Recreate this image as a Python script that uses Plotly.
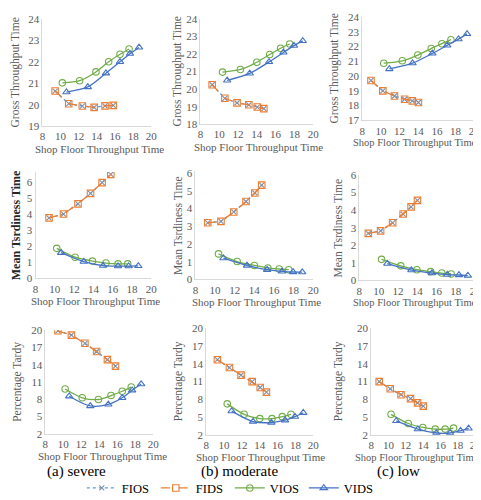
import plotly.graph_objects as go

# ---------------- data ----------------
x_ticks = [8, 10, 12, 14, 16, 18, 20]
pct_ticks = [2, 5, 8, 11, 14, 17, 20]
captions = ["(a) severe", "(b) moderate", "(c) low"]
y_titles = ["Gross Throughput Time", "Mean Tsrdiness Time", "Percentage Tardy"]
x_title = "Shop Floor Throughput Time"
series_names = ["FIOS", "FIDS", "VIOS", "VIDS"]

# shop floor throughput time (x) per scenario / rule
sev_fids_x = [9.4, 10.9, 12.4, 13.7, 14.9, 15.8]
sev_vios_x = [10.2, 12.1, 13.9, 15.3, 16.55, 17.55]
sev_vids_x = [10.65, 13.0, 15.0, 16.55, 17.65, 18.65]
mod_fids_x = [9.25, 10.6, 11.9, 13.15, 14.05, 14.75]
mod_vios_x = [10.35, 12.25, 14.0, 15.37, 16.53, 17.5]
mod_vids_x = [10.85, 13.25, 15.3, 16.83, 17.95, 18.88]
low_fids_x = [8.93, 10.2, 11.45, 12.54, 13.36, 14.02]
low_vios_x = [10.3, 12.29, 13.96, 15.39, 16.54, 17.51]
low_vids_x = [10.9, 13.39, 15.52, 17.11, 18.32, 19.24]

# gross throughput time
sev_gtt_fids = [20.64, 20.05, 19.94, 19.88, 19.95, 19.97]
sev_gtt_vios = [21.02, 21.12, 21.53, 22.0, 22.35, 22.6]
sev_gtt_vids = [20.59, 20.83, 21.47, 22.0, 22.38, 22.67]
mod_gtt_fids = [20.25, 19.48, 19.22, 19.11, 18.98, 18.89]
mod_gtt_vios = [20.97, 21.12, 21.53, 21.97, 22.33, 22.57]
mod_gtt_vids = [20.5, 20.9, 21.55, 22.09, 22.48, 22.75]
low_gtt_fids = [19.7, 19.0, 18.65, 18.43, 18.32, 18.21]
low_gtt_vios = [20.87, 21.03, 21.42, 21.86, 22.19, 22.46]
low_gtt_vids = [20.48, 20.87, 21.53, 22.08, 22.5, 22.85]

# mean tardiness time
sev_mtt_fids = [3.76, 4.0, 4.63, 5.28, 5.95, 6.46]
sev_mtt_vios = [1.87, 1.32, 1.08, 0.96, 0.91, 0.91]
sev_mtt_vids = [1.6, 1.05, 0.8, 0.77, 0.77, 0.78]
mod_mtt_fids = [3.19, 3.27, 3.8, 4.39, 4.87, 5.31]
mod_mtt_vios = [1.44, 1.01, 0.79, 0.65, 0.59, 0.55]
mod_mtt_vids = [1.2, 0.79, 0.55, 0.46, 0.42, 0.41]
low_mtt_fids = [2.68, 2.82, 3.28, 3.78, 4.19, 4.56]
low_mtt_vios = [1.2, 0.83, 0.61, 0.5, 0.42, 0.37]
low_mtt_vids = [0.96, 0.59, 0.42, 0.33, 0.31, 0.28]

# percentage tardy (%)
sev_pt_fids = [19.9, 19.15, 17.73, 16.3, 14.89, 13.75]
sev_pt_vios = [9.77, 8.24, 7.95, 8.64, 9.38, 10.11]
sev_pt_vids = [8.52, 6.82, 7.1, 8.24, 9.55, 10.63]
mod_pt_fids = [14.68, 13.35, 12.08, 10.97, 9.98, 9.2]
mod_pt_vios = [7.21, 5.44, 4.72, 4.72, 5.05, 5.44]
mod_pt_vids = [5.99, 4.22, 4.05, 4.44, 5.05, 5.71]
low_pt_fids = [10.97, 9.76, 8.76, 8.1, 7.38, 6.82]
low_pt_vios = [5.44, 3.89, 3.22, 2.94, 2.94, 3.11]
low_pt_vids = [4.33, 2.94, 2.28, 2.28, 2.67, 3.06]

# FIOS coincides with FIDS in every panel
sev_gtt_fios, mod_gtt_fios, low_gtt_fios = sev_gtt_fids, mod_gtt_fids, low_gtt_fids
sev_mtt_fios, mod_mtt_fios, low_mtt_fios = sev_mtt_fids, mod_mtt_fids, low_mtt_fids
sev_pt_fios, mod_pt_fios, low_pt_fios = sev_pt_fids, mod_pt_fids, low_pt_fids

xs = {
    "severe": (sev_fids_x, sev_fids_x, sev_vios_x, sev_vids_x),
    "moderate": (mod_fids_x, mod_fids_x, mod_vios_x, mod_vids_x),
    "low": (low_fids_x, low_fids_x, low_vios_x, low_vids_x),
}
panels = [
    [("severe", (sev_gtt_fios, sev_gtt_fids, sev_gtt_vios, sev_gtt_vids)),
     ("moderate", (mod_gtt_fios, mod_gtt_fids, mod_gtt_vios, mod_gtt_vids)),
     ("low", (low_gtt_fios, low_gtt_fids, low_gtt_vios, low_gtt_vids))],
    [("severe", (sev_mtt_fios, sev_mtt_fids, sev_mtt_vios, sev_mtt_vids)),
     ("moderate", (mod_mtt_fios, mod_mtt_fids, mod_mtt_vios, mod_mtt_vids)),
     ("low", (low_mtt_fios, low_mtt_fids, low_mtt_vios, low_mtt_vids))],
    [("severe", (sev_pt_fios, sev_pt_fids, sev_pt_vios, sev_pt_vids)),
     ("moderate", (mod_pt_fios, mod_pt_fids, mod_pt_vios, mod_pt_vids)),
     ("low", (low_pt_fios, low_pt_fids, low_pt_vios, low_pt_vids))],
]

# ---------------- layout geometry (pixels) ----------------
W, H = 481, 500
# (x_left, x_right, y_top, y_bottom, y_range)
geom = [
    [(32, 143, 5, 115, [19, 24]), (193, 308, 5, 113, [18, 24]), (358, 472, 3, 109, [17, 24])],
    [(25, 143, 162, 271, [0, 6.6]), (188, 308, 161, 272, [0, 6.1]), (355, 473, 165, 273, [0, 6])],
    [(35, 145, 324, 430, [2, 20]), (199, 308, 322, 431, [2, 20]), (367, 473, 322, 431, [2, 20])],
]
ytitle_x = [[5, 170, 330], [5, 170, 333], [7, 171, 334]]
xtitle_cx = [[90, 252, 412], [86, 250, 412], [93, 254, 414]]

styles = [
    dict(color="#5B9BD5", dash="dot", symbol="x-thin-open", shape="linear"),
    dict(color="#ED7D31", dash="dash", symbol="square-open", shape="linear"),
    dict(color="#70AD47", dash="solid", symbol="circle-open", shape="spline"),
    dict(color="#4472C4", dash="solid", symbol="triangle-up-open", shape="spline"),
]

FONT = "Liberation Serif"
TICK_COLOR = "#595959"
fig = go.Figure()
annotations = []
idx = 0
for r in range(3):
    for c in range(3):
        idx += 1
        xl, xr, yt, yb, yr = geom[r][c]
        xa = "x" if idx == 1 else f"x{idx}"
        ya = "y" if idx == 1 else f"y{idx}"
        scen, ys = panels[r][c]
        for s in range(4):
            st = styles[s]
            fig.add_trace(go.Scatter(
                x=xs[scen][s], y=ys[s], xaxis=xa, yaxis=ya,
                mode="lines+markers", name=series_names[s],
                showlegend=(idx == 1), legendgroup=series_names[s],
                line=dict(color=st["color"], dash=st["dash"], width=1.3,
                          shape=st["shape"], smoothing=0.8),
                marker=dict(symbol=st["symbol"], size=6.5 if s != 0 else 5,
                            color=st["color"] if s != 0 else "#7F8FA6",
                            line=dict(width=1.1,
                                      color=st["color"] if s != 0 else "#7F8FA6")),
            ))
        xkey = "xaxis" if idx == 1 else f"xaxis{idx}"
        ykey = "yaxis" if idx == 1 else f"yaxis{idx}"
        axis_common = dict(showgrid=False, zeroline=False, showline=True,
                           linecolor="#D9D9D9", linewidth=1, ticks="",
                           tickfont=dict(family=FONT, size=11, color=TICK_COLOR))
        fig.layout[xkey] = dict(domain=[xl / W, xr / W], anchor=ya, range=[8, 20],
                                tickvals=x_ticks, **axis_common)
        if r == 2:
            ycfg = dict(tickvals=pct_ticks, ticksuffix="%")
        else:
            ycfg = dict(dtick=1, tick0=0)
        fig.layout[ykey] = dict(domain=[1 - yb / H, 1 - yt / H], anchor=xa, range=yr,
                                **ycfg, **axis_common)
        # x-axis title
        annotations.append(dict(text=x_title, xref="paper", yref="paper",
                                x=xtitle_cx[r][c] / W, y=1 - (yb + 23) / H,
                                xanchor="center", yanchor="middle", showarrow=False,
                                font=dict(family=FONT, size=10.5 if c == 2 else 11,
                                          color=TICK_COLOR)))
        # y-axis title
        big = (r == 1 and c == 0)
        annotations.append(dict(text=("<b>%s</b>" % y_titles[r]) if big else y_titles[r],
                                xref="paper", yref="paper",
                                x=ytitle_x[r][c] / W, y=1 - (yt + yb) / 2 / H,
                                xanchor="center", yanchor="middle", textangle=-90,
                                showarrow=False,
                                font=dict(family=FONT, size=12 if big else 11.5,
                                          color="#262626" if big else TICK_COLOR)))

cap_x = [67, 233, 395]
for c in range(3):
    annotations.append(dict(text=captions[c], xref="paper", yref="paper",
                            x=cap_x[c] / W, y=1 - 469 / H, xanchor="center",
                            yanchor="middle", showarrow=False,
                            font=dict(family=FONT, size=15, color="#000000")))

fig.update_layout(
    width=W, height=H, margin=dict(l=0, r=0, t=0, b=0),
    paper_bgcolor="white", plot_bgcolor="white",
    font=dict(family=FONT),
    annotations=annotations,
    legend=dict(orientation="h", x=0.15, y=1 - 486 / H, xanchor="left", yanchor="middle",
                font=dict(family=FONT, size=12.5, color="#000000"),
                bgcolor="rgba(0,0,0,0)", entrywidth=29, entrywidthmode="pixels",
                tracegroupgap=0),
)
fig.write_html("out.html")
